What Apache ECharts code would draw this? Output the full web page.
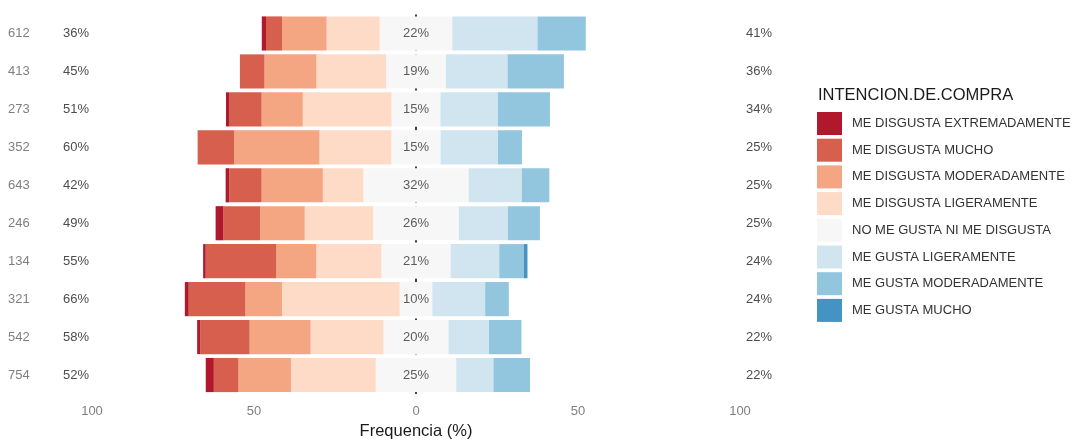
<!DOCTYPE html>
<html>
<head>
<meta charset="utf-8">
<script src="https://cdn.jsdelivr.net/npm/echarts@6/dist/echarts.min.js"></script>
<style>html,body{margin:0;padding:0;background:#fff}#c{width:1086px;height:445px}</style>
</head>
<body>
<div id="c"></div>
<script>
const categories = ['612','413','273','352','643','246','134','321','542','754'];
const seriesNames = ['ME DISGUSTA EXTREMADAMENTE','ME DISGUSTA MUCHO','ME DISGUSTA MODERADAMENTE','ME DISGUSTA LIGERAMENTE','NO ME GUSTA NI ME DISGUSTA','ME GUSTA LIGERAMENTE','ME GUSTA MODERADAMENTE','ME GUSTA MUCHO'];
const colors = ['#b2182b','#d6604d','#f4a582','#fddbc7','#f7f7f7','#d1e5f0','#92c5de','#4393c3'];
const disgustaExtremadamente = [1.3, 0, 1.1, 0, 1.1, 2.4, 0.8, 1.2, 1.0, 2.5];
const disgustaMucho          = [5.0, 7.6, 9.9, 11.3, 10.0, 11.3, 21.8, 17.5, 15.2, 7.6];
const disgustaModeradamente  = [13.7, 16.0, 12.7, 26.3, 18.9, 13.8, 12.3, 11.3, 18.8, 16.2];
const disgustaLigeramente    = [16.4, 21.5, 27.4, 22.2, 12.5, 21.1, 20.1, 36.3, 22.5, 26.2];
const neutral                = [22.4, 18.5, 15.1, 15.2, 32.5, 26.5, 21.4, 10.1, 20.1, 24.8];
const gustaLigeramente       = [26.3, 19.0, 17.7, 17.7, 16.4, 15.1, 15.0, 16.3, 12.5, 11.5];
const gustaModeradamente     = [14.9, 17.4, 16.1, 7.4, 8.5, 9.9, 7.6, 7.3, 10.0, 11.3];
const gustaMucho             = [0, 0, 0, 0, 0, 0, 1.1, 0, 0, 0];
const leftPct  = ['36%','45%','51%','60%','42%','49%','55%','66%','58%','52%'];
const midPct   = ['22%','19%','15%','15%','32%','26%','21%','10%','20%','25%'];
const rightPct = ['41%','36%','34%','25%','25%','25%','24%','24%','22%','22%'];
const xTicks = [-100, -50, 0, 50, 100];

const FONT = '"Liberation Sans", Arial, sans-serif';
const chart = echarts.init(document.getElementById('c'), null, {renderer: 'canvas'});

function barSeries(name, data, color, sign) {
  return {
    name: name, type: 'bar', stack: 'likert', z: 3,
    barWidth: '90%',
    itemStyle: {color: color},
    data: data.map(v => sign * v),
    emphasis: {disabled: true}
  };
}

const series = [
  barSeries(seriesNames[4], neutral.map(v => v / 2), colors[4], -1),
  barSeries(seriesNames[3], disgustaLigeramente, colors[3], -1),
  barSeries(seriesNames[2], disgustaModeradamente, colors[2], -1),
  barSeries(seriesNames[1], disgustaMucho, colors[1], -1),
  barSeries(seriesNames[0], disgustaExtremadamente, colors[0], -1),
  barSeries(seriesNames[4], neutral.map(v => v / 2), colors[4], 1),
  barSeries(seriesNames[5], gustaLigeramente, colors[5], 1),
  barSeries(seriesNames[6], gustaModeradamente, colors[6], 1),
  barSeries(seriesNames[7], gustaMucho, colors[7], 1),
  {
    name: 'zeroLine', type: 'scatter', z: 1, data: [],
    markLine: {
      z: 1, silent: true, symbol: 'none', label: {show: false},
      lineStyle: {color: '#000', width: 1.5, type: [4, 4]},
      data: [{xAxis: 0}]
    }
  },
  {
    name: 'midLabels', type: 'scatter', z: 6, symbolSize: 0,
    data: categories.map((c, i) => [0, c, midPct[i]]),
    label: {
      show: true, position: 'inside', formatter: p => p.data[2],
      color: '#333', fontSize: 13, fontFamily: FONT
    },
    emphasis: {disabled: true}
  }
];

chart.setOption({
  animation: false,
  backgroundColor: '#fff',
  color: colors,
  title: {
    text: 'INTENCION.DE.COMPRA', left: 818, top: 87, padding: 0,
    textStyle: {fontSize: 16.5, fontWeight: 'normal', color: '#1a1a1a', fontFamily: FONT}
  },
  legend: {
    orient: 'vertical', left: 817, top: 112, padding: 0,
    itemWidth: 25, itemHeight: 23, itemGap: 3.7,
    icon: 'rect',
    data: seriesNames,
    selectedMode: false,
    textStyle: {fontSize: 13, color: '#333', fontFamily: FONT, padding: [0, 0, 0, 5]}
  },
  grid: {left: 92, right: 346, top: 14.5, bottom: 48},
  xAxis: {
    type: 'value', min: -100, max: 100, interval: 50,
    axisLine: {show: false}, axisTick: {show: false}, splitLine: {show: false},
    axisLabel: {
      formatter: v => xTicks.indexOf(v) >= 0 ? String(Math.abs(v)) : '',
      color: '#7f7f7f', fontSize: 13, fontFamily: FONT, margin: 11
    },
    name: 'Frequencia (%)', nameLocation: 'middle', nameGap: 29,
    nameTextStyle: {fontSize: 16.5, color: '#1a1a1a', fontFamily: FONT}
  },
  yAxis: [
    {
      type: 'category', data: categories, inverse: true,
      axisLine: {show: false}, axisTick: {show: false},
      axisLabel: {
        align: 'left', margin: 84,
        formatter: (v, i) => '{id|' + v + '}{pct|' + leftPct[i] + '}',
        rich: {
          id: {width: 55, color: '#7f7f7f', fontSize: 13, fontFamily: FONT},
          pct: {color: '#4d4d4d', fontSize: 13, fontFamily: FONT}
        }
      }
    },
    {
      type: 'category', data: categories, inverse: true, position: 'right',
      axisLine: {show: false}, axisTick: {show: false},
      axisLabel: {
        align: 'left', margin: 6,
        formatter: (v, i) => rightPct[i],
        color: '#4d4d4d', fontSize: 13, fontFamily: FONT
      }
    }
  ],
  series: series
});
</script>
</body>
</html>
